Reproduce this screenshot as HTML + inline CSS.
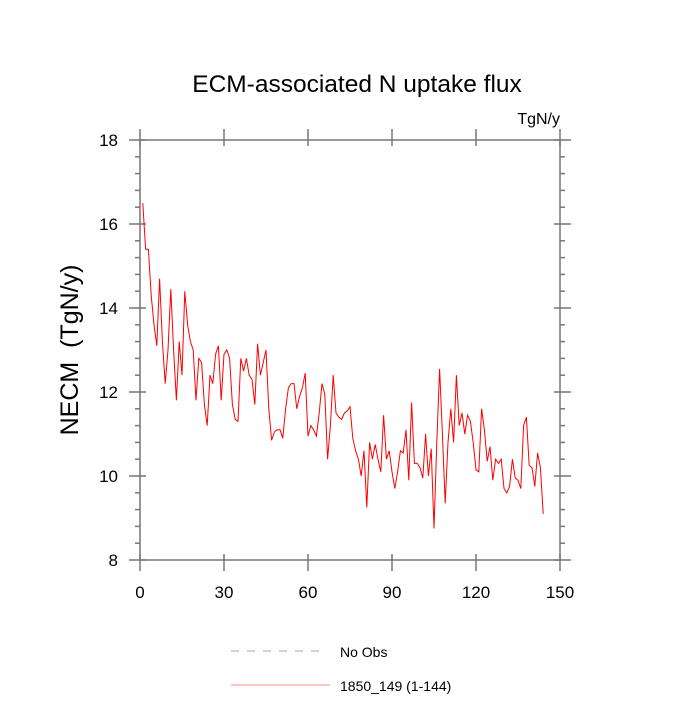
<!DOCTYPE html>
<html><head><meta charset="utf-8"><style>
body{margin:0;background:#fff;}
svg text{font-family:"Liberation Sans",sans-serif;}
</style></head><body>
<svg id="chart" width="700" height="700" xmlns="http://www.w3.org/2000/svg">
<text x="357" y="92" font-size="24.5" text-anchor="middle">ECM-associated N uptake flux</text>
<text x="560" y="124" font-size="16" text-anchor="end">TgN/y</text>
<text transform="translate(78,350) rotate(-90)" font-size="25" text-anchor="middle" xml:space="preserve">NECM  (TgN/y)</text>
<g id="axes"></g>
<g id="ticks"></g>
<path id="series" fill="none" stroke="#ff0000" stroke-width="1"/>
<g>
<line x1="231" y1="651" x2="326" y2="651" stroke="#9999ff" stroke-width="1" stroke-dasharray="8,8"/>
<text x="340" y="657" font-size="14">No Obs</text>
<line x1="231" y1="685" x2="330" y2="685" stroke="#ff8888" stroke-width="1"/>
<text x="340" y="691" font-size="14">1850_149 (1-144)</text>
</g>
</svg>
<script>
const values=[16.5,15.4,15.4,14.3,13.6,13.1,14.7,13.2,12.2,13.0,14.45,13.0,11.8,13.2,12.4,14.4,13.6,13.2,13.0,11.8,12.8,12.7,11.7,11.2,12.4,12.2,12.9,13.1,11.8,12.9,13.0,12.8,11.7,11.35,11.3,12.8,12.5,12.8,12.4,12.3,11.7,13.15,12.4,12.7,13.0,11.6,10.85,11.05,11.1,11.1,10.9,11.6,12.1,12.2,12.2,11.6,11.9,12.1,12.45,10.95,11.2,11.1,10.95,11.5,12.2,11.95,10.4,11.2,12.4,11.5,11.4,11.35,11.5,11.55,11.65,10.9,10.6,10.4,10.0,10.6,9.25,10.8,10.4,10.75,10.4,10.1,11.45,10.4,10.6,10.1,9.7,10.1,10.6,10.55,11.1,9.9,11.75,10.3,10.3,10.2,9.95,11.0,10.0,10.65,8.75,10.8,12.55,11.0,9.35,10.8,11.6,10.8,12.4,11.2,11.5,11.0,11.45,11.3,10.8,10.15,10.1,11.6,11.1,10.35,10.7,9.9,10.4,10.3,10.4,9.7,9.6,9.75,10.4,9.95,9.9,9.7,11.2,11.4,10.25,10.2,9.75,10.55,10.2,9.1];
const xTicks=[0,30,60,90,120,150];
const yTicks=[8,10,12,14,16,18];
const L=140,R=560,T=140,B=560,X0=0,X1=150,Y0=8,Y1=18;
const sx=v=>L+(v-X0)/(X1-X0)*(R-L);
const sy=v=>B-(v-Y0)/(Y1-Y0)*(B-T);
const NS='http://www.w3.org/2000/svg';
function mk(tag,attrs,parent){const e=document.createElementNS(NS,tag);for(const k in attrs)e.setAttribute(k,attrs[k]);parent.appendChild(e);return e;}
const ax=document.getElementById('axes'),tk=document.getElementById('ticks');
const frame=mk('rect',{x:L,y:T,width:R-L,height:B-T,fill:'none',stroke:'#777','stroke-width':1.5},ax);


const st={stroke:'#777','stroke-width':1.5};
xTicks.forEach(v=>{const x=sx(v);
 const a=mk('line',Object.assign({x1:x,x2:x,y1:B+11,y2:B-6},st),tk);
 
 
 const b=mk('line',Object.assign({x1:x,x2:x,y1:T-11,y2:T+6},st),tk);
 
 });
for(let v=Y0;v<=Y1+1e-6;v+=0.4){const y=sy(v);const maj=yTicks.some(t=>Math.abs(t-v)<1e-6);
 const a=mk('line',Object.assign({y1:y,y2:y,x1:L-(maj?11:5),x2:maj?L+6:L},st),tk);
 
 
 const b=mk('line',Object.assign({y1:y,y2:y,x1:R+(maj?11:5),x2:maj?R-6:R},st),tk);
 
 }
xTicks.forEach(v=>{const t=mk('text',{x:sx(v),y:B+38,'font-size':17,'text-anchor':'middle'},tk);t.textContent=v;
 
 });
yTicks.forEach(v=>{const t=mk('text',{x:L-22,y:sy(v)+6,'font-size':17,'text-anchor':'end'},tk);t.textContent=v;
 
 });
document.getElementById('series').setAttribute('d',values.map((v,i)=>(i?'L':'M')+sx(i+1).toFixed(2)+' '+sy(v).toFixed(2)).join(' '));
</script>
</body></html>
